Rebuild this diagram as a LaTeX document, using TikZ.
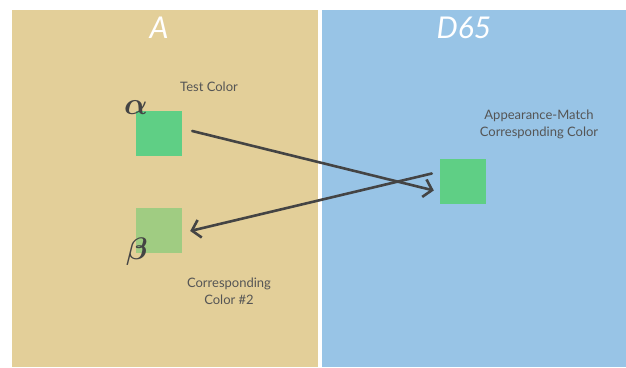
\documentclass[tikz,border=0pt]{standalone}
\usepackage{fontspec}
\setmainfont{Lato}
\usetikzlibrary{arrows.meta}
\definecolor{panelA}{HTML}{E3CF99}
\definecolor{panelD}{HTML}{98C4E6}
\definecolor{swatch}{HTML}{5FCF85}
\definecolor{swatchB}{HTML}{A0CC82}
\definecolor{ink}{HTML}{444444}
\definecolor{label}{HTML}{555555}
\tikzset{
  swatchbox/.style={minimum width=46pt, minimum height=45pt, inner sep=0pt, draw=none},
  caption/.style={text=label, font=\fontsize{13}{16.5}\selectfont, align=center, inner sep=0pt},
  heading/.style={text=white, font=\fontsize{30}{32}\selectfont\itshape, inner sep=0pt},
  greek/.style={text=ink, font=\fontsize{24.88}{28}\selectfont\boldmath, inner sep=0pt,
    scale=1.25, transform shape},
  matcharrow/.style={draw=ink, line width=2.6pt, line cap=round,
    -{Straight Barb[length=8pt,width=18pt,line width=2.6pt]}}
}
\begin{document}
\begin{tikzpicture}[x=1pt,y=-1pt]
\useasboundingbox (0,0) rectangle (626,367);
\fill[white] (0,0) rectangle (626,367);
% illuminant panels
\fill[panelA] (12,10) rectangle (318,367);
\fill[panelD] (322,10) rectangle (626,367);
\node[heading] (hA) at (159,28) {A};
\node[heading] (hD) at (464,28) {D65};
% colour swatches
\node[swatchbox, fill=swatch] (test) at (159,133) {};
\node[swatchbox, fill=swatchB] (corr) at (159,230) {};
\node[swatchbox, fill=swatch] (match) at (463,181.5) {};
% labels
\node[caption] (ltest) at (209,87) {Test Color};
\node[caption] (lmatch) at (539,124.5) {Appearance-Match\\Corresponding Color};
\node[caption] (lcorr) at (229,291.5) {Corresponding\\Color \#2};
\node[greek] (alpha) at (136,108) {$\alpha$};
\node[greek] (beta) at (137,252) {$\beta$};
% transforms between illuminants
\draw[matcharrow] ([xshift=10pt,yshift=2pt]test.east) -- ([xshift=-6pt,yshift=-9pt]match.west);
\draw[matcharrow] ([xshift=-8pt,yshift=8pt]match.west) -- ([xshift=8pt,yshift=-1pt]corr.east);
\end{tikzpicture}
\end{document}
